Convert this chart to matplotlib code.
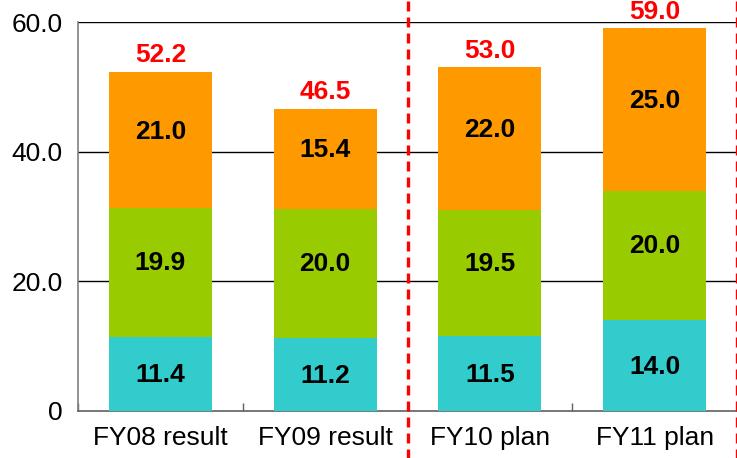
import matplotlib
matplotlib.use("Agg")
import matplotlib.pyplot as plt
import numpy as np

categories = ["FY08 result", "FY09 result", "FY10 plan", "FY11 plan"]
bottom_vals = [11.4, 11.2, 11.5, 14.0]
middle_vals = [19.9, 20.0, 19.5, 20.0]
top_vals = [21.0, 15.4, 22.0, 25.0]
totals = [52.2, 46.5, 53.0, 59.0]
yticks = [0, 20, 40, 60]
ytick_labels = ["0", "20.0", "40.0", "60.0"]

colors = ["#33CCCC", "#99CC00", "#FF9900"]

plt.rcParams['font.family'] = ['Liberation Sans', 'DejaVu Sans']
FS = 19

fig = plt.figure(figsize=(7.37, 4.58), dpi=100)
ax = fig.add_axes([78/737, 1-411/458, 1-78/737, (411-22)/458])

x = np.arange(len(categories))
w = 0.625
b = np.array(bottom_vals)
m = np.array(middle_vals)
t = np.array(top_vals)
ax.bar(x, b, w, color=colors[0], zorder=3)
ax.bar(x, m, w, bottom=b, color=colors[1], zorder=3)
ax.bar(x, t, w, bottom=b+m, color=colors[2], zorder=3)

for i in range(len(x)):
    ax.annotate(f"{b[i]:.1f}", (x[i], b[i]/2), xytext=(0, -1), textcoords='offset points',
                ha='center', va='center', fontsize=FS, fontweight='bold', zorder=4)
    ax.annotate(f"{m[i]:.1f}", (x[i], b[i] + m[i]/2), xytext=(0, 7), textcoords='offset points',
                ha='center', va='center', fontsize=FS, fontweight='bold', zorder=4)
    ax.annotate(f"{t[i]:.1f}", (x[i], b[i] + m[i] + t[i]/2), xytext=(0, 6), textcoords='offset points',
                ha='center', va='center', fontsize=FS, fontweight='bold', zorder=4)
    ax.annotate(f"{totals[i]:.1f}", (x[i], b[i] + m[i] + t[i]), xytext=(0, 7), textcoords='offset points',
                ha='center', va='baseline', fontsize=FS, fontweight='bold', color='red', zorder=4,
                annotation_clip=False)

ax.set_xlim(-0.5, len(categories) - 0.5)
ax.set_ylim(0, 60)
ax.set_yticks(yticks)
ax.set_yticklabels(ytick_labels, fontsize=FS)
ax.tick_params(axis='y', length=0, pad=11)
ax.set_xticks(x)
ax.set_xticklabels(categories, fontsize=FS)
ax.tick_params(axis='x', length=0, pad=11)
ax.set_xticks(np.arange(len(categories) + 1) - 0.5, minor=True)
ax.tick_params(axis='x', which='minor', direction='in', length=6, color='#606060', width=1)

for yv in yticks[1:]:
    ax.axhline(yv, color='black', lw=1.0, zorder=2)

for s in ['top', 'right']:
    ax.spines[s].set_visible(False)
ax.spines['left'].set_color('#808080')
ax.spines['bottom'].set_color('#606060')
ax.spines['left'].set_linewidth(1.2)
ax.spines['bottom'].set_linewidth(1.2)

ax.axvline(1.5, ymin=-0.13, ymax=1.07, color='#FF0000', lw=2.4, linestyle=(0, (3, 1.8)),
           clip_on=False, zorder=5)
ax.axvline(3.5, ymin=-0.13, ymax=1.07, color='#FF0000', lw=2.4, linestyle=(0, (3, 1.8)),
           clip_on=False, zorder=5)

fig.savefig("out.png", dpi=100)
